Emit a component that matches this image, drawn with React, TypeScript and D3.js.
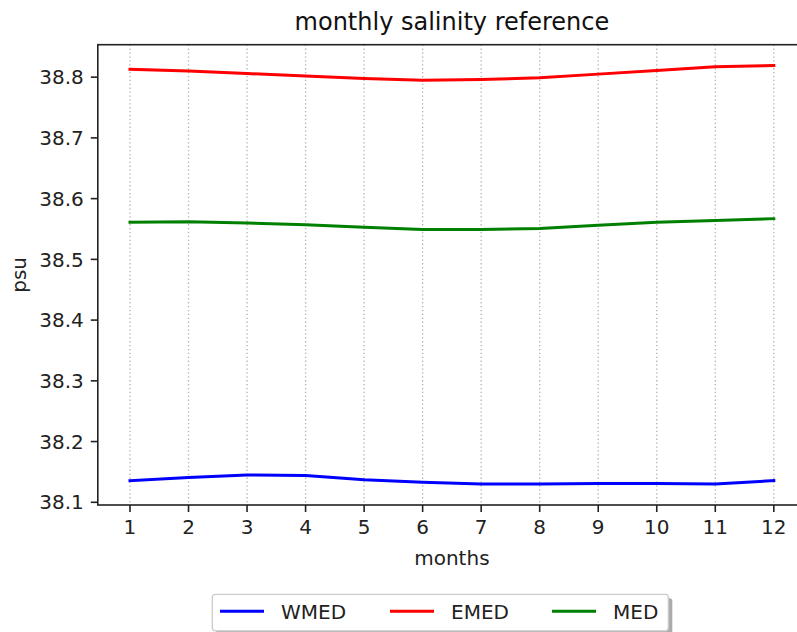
import React from "react";
import * as d3 from "d3";

const months = [1, 2, 3, 4, 5, 6, 7, 8, 9, 10, 11, 12];
const wmed = [38.1356, 38.141, 38.145, 38.144, 38.137, 38.133, 38.130, 38.130, 38.131, 38.131, 38.130, 38.1356];
const emed = [38.813, 38.810, 38.806, 38.802, 38.798, 38.795, 38.796, 38.799, 38.805, 38.811, 38.817, 38.819];
const med = [38.561, 38.562, 38.560, 38.557, 38.553, 38.549, 38.549, 38.551, 38.556, 38.561, 38.564, 38.567];
const yTicks = [38.1, 38.2, 38.3, 38.4, 38.5, 38.6, 38.7, 38.8];
const seriesNames = ["WMED", "EMED", "MED"];
const seriesColors = ["#0000ff", "#ff0000", "#008000"];
const title = "monthly salinity reference";
const xLabel = "months";
const yLabel = "psu";

export default function App() {
  const W = 797, H = 632;
  const left = 97.8, right = 806, top = 44.7, bottom = 505;
  const all = [...wmed, ...emed, ...med];
  const ymin = d3.min(all)!, ymax = d3.max(all)!;
  const pad = (ymax - ymin) * 0.05;
  const x = d3.scaleLinear().domain([1 - 0.55, 12 + 0.55]).range([left, right]);
  const y = d3.scaleLinear().domain([ymin - pad, ymax + pad]).range([bottom, top]);
  const line = d3.line<number>().x((_, i) => x(months[i])).y((d) => y(d));
  const series = [wmed, emed, med];
  const font = "DejaVu Sans, sans-serif";
  const legendX = 212.3, legendY = 594.3, legendW = 456, legendH = 36.5;
  const itemX = [220, 390, 552];
  return (
    <svg width={W} height={H} style={{ position: "absolute", left: 0, top: 0 }} fontFamily={font}>
      <rect x={0} y={0} width={W} height={H} fill="#fff" />
      {months.map((m) => (
        <line key={m} x1={x(m)} x2={x(m)} y1={top} y2={bottom} stroke="#b0b0b0" strokeWidth={1.3} strokeDasharray="1.3,2.6" />
      ))}
      <defs>
        <clipPath id="plotclip">
          <rect x={left} y={top} width={right - left} height={bottom - top} />
        </clipPath>
      </defs>
      <g clipPath="url(#plotclip)">
        {series.map((s, i) => (
          <path key={i} d={line(s)!} fill="none" stroke={seriesColors[i]} strokeWidth={3} strokeLinejoin="round" strokeLinecap="square" />
        ))}
      </g>
      <rect x={left} y={top} width={right - left} height={bottom - top} fill="none" stroke="#222" strokeWidth={1.6} />
      {months.map((m) => (
        <g key={m}>
          <line x1={x(m)} x2={x(m)} y1={bottom} y2={bottom + 7} stroke="#222" strokeWidth={1.6} />
          <text x={x(m)} y={bottom + 29} textAnchor="middle" fontSize={20} fill="#222">{m}</text>
        </g>
      ))}
      {yTicks.map((t) => (
        <g key={t}>
          <line x1={left - 7} x2={left} y1={y(t)} y2={y(t)} stroke="#222" strokeWidth={1.6} />
          <text x={left - 14} y={y(t)} dy="0.36em" textAnchor="end" fontSize={20} fill="#222">{t.toFixed(1)}</text>
        </g>
      ))}
      <text x={(left + right) / 2} y={30} textAnchor="middle" fontSize={24} fill="#111">{title}</text>
      <text x={(left + right) / 2} y={565} textAnchor="middle" fontSize={20} fill="#222">{xLabel}</text>
      <text transform={`translate(26,${(top + bottom) / 2}) rotate(-90)`} textAnchor="middle" fontSize={20} fill="#222">{yLabel}</text>
      <rect x={legendX + 4} y={legendY + 4} width={legendW} height={legendH} rx={3} fill="#888" opacity={0.7} />
      <rect x={legendX} y={legendY} width={legendW} height={legendH} rx={3} fill="#fff" stroke="#cccccc" strokeWidth={1.3} />
      {seriesNames.map((n, i) => (
        <g key={n}>
          <line x1={itemX[i]} x2={itemX[i] + 44} y1={legendY + 17} y2={legendY + 17} stroke={seriesColors[i]} strokeWidth={3} />
          <text x={itemX[i] + 61} y={legendY + 17} dy="0.36em" fontSize={20} fill="#222">{n}</text>
        </g>
      ))}
    </svg>
  );
}
